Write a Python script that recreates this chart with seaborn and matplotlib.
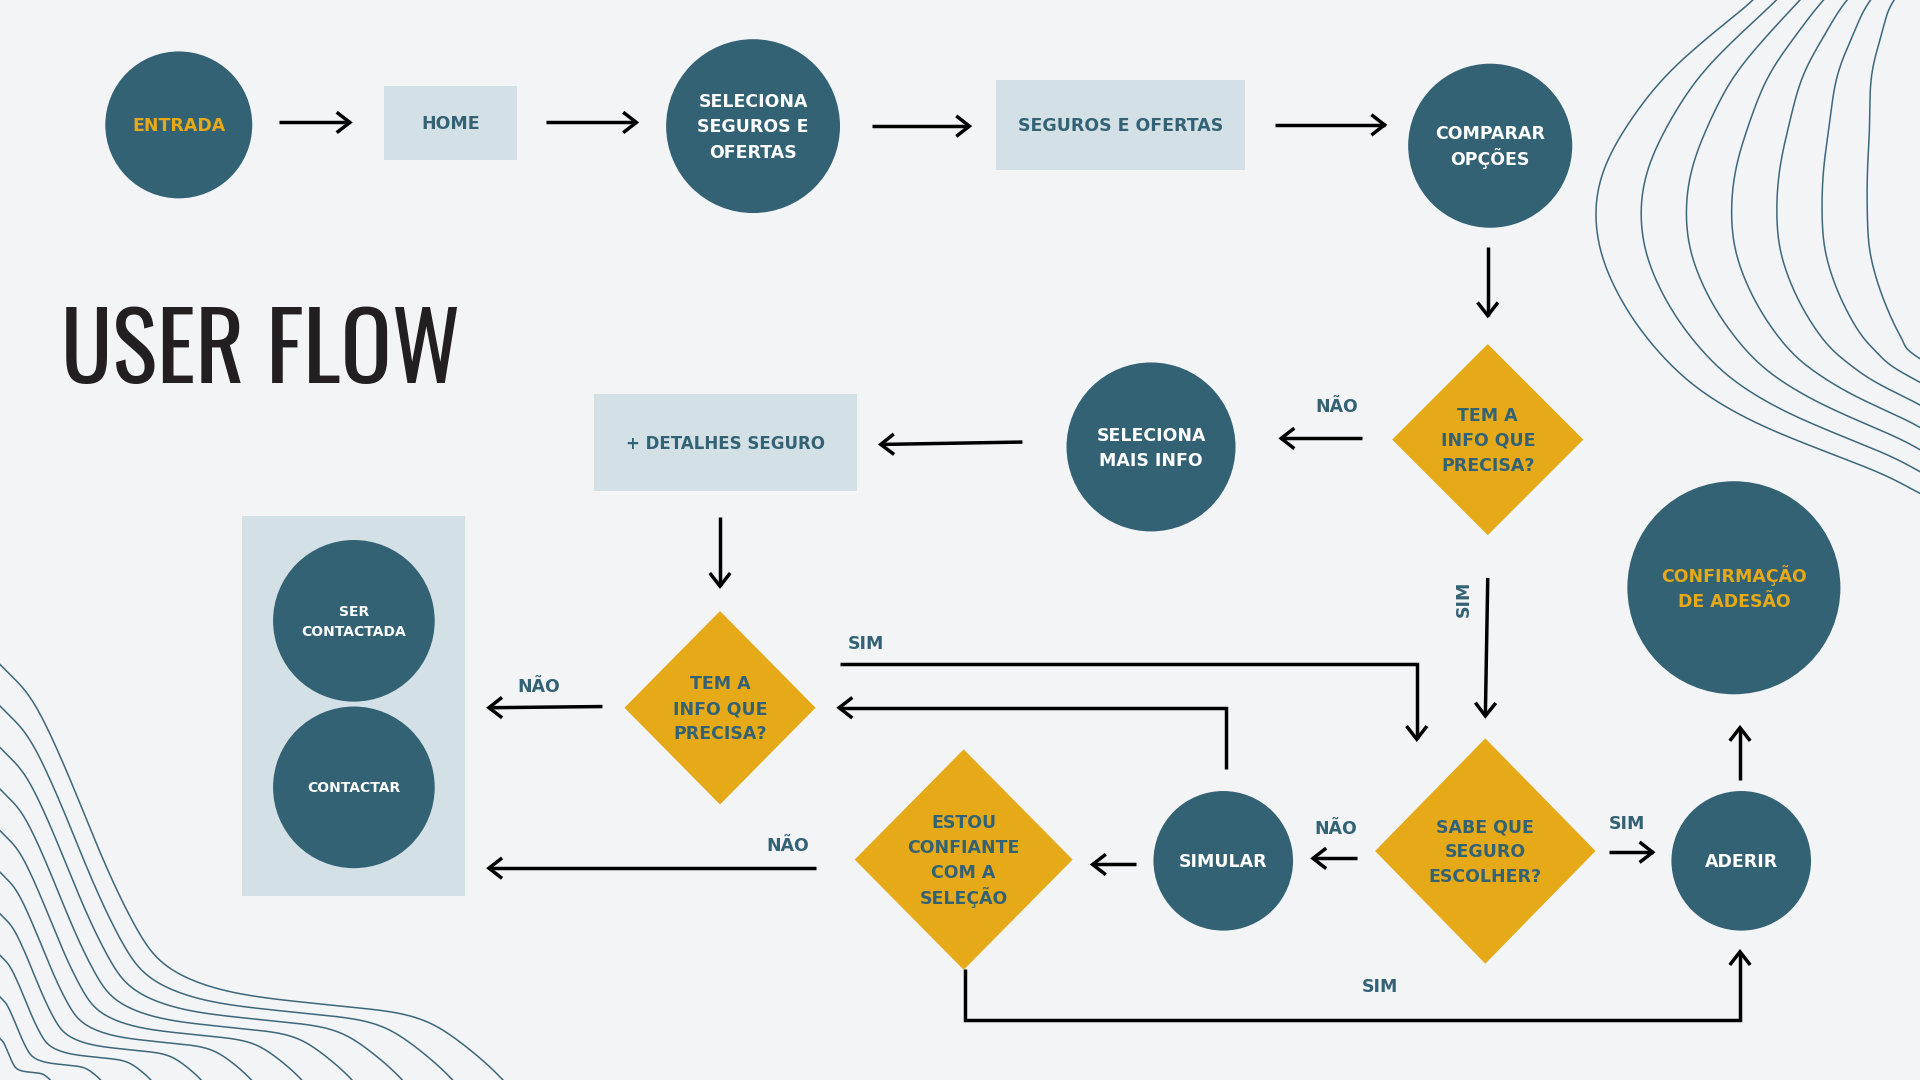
import numpy as np
import pandas as pd
import matplotlib
matplotlib.use("Agg")
import matplotlib.pyplot as plt
import seaborn as sns
from matplotlib.patches import Circle, Rectangle, Polygon, FancyArrowPatch, ArrowStyle
from matplotlib.path import Path
from matplotlib import font_manager

# ---------------- content ----------------
title = "USER FLOW"
circle_labels = ["ENTRADA", "SELECIONA\nSEGUROS E\nOFERTAS", "COMPARAR\nOPÇÕES",
                 "SELECIONA\nMAIS INFO", "SER\nCONTACTADA", "CONTACTAR",
                 "SIMULAR", "ADERIR", "CONFIRMAÇÃO\nDE ADESÃO"]
box_labels = ["HOME", "SEGUROS E OFERTAS", "+ DETALHES SEGURO"]
diamond_labels = ["TEM A\nINFO QUE\nPRECISA?", "TEM A\nINFO QUE\nPRECISA?",
                  "SABE QUE\nSEGURO\nESCOLHER?", "ESTOU\nCONFIANTE\nCOM A\nSELEÇÃO"]
decision_labels = ["NÃO", "NÃO", "SIM", "SIM", "NÃO", "NÃO", "SIM", "SIM"]

# ---------------- styles ----------------
TEAL = "#346275"
YELLOW = "#e6a918"
LIGHT = "#d3e0e5"
BG = "#f2f4f6"
WHITE = "#ffffff"
INK = "#231f20"

# ---------------- layout (canvas units 1568 x 882, y downward) ----------------
W, H = 1568, 882
circle_xy = [(146, 102), (615, 103), (1217, 119), (940, 365), (289, 507),
             (289, 643), (999, 703), (1422, 703), (1416, 480)]
circle_r = [60, 71, 67, 69, 66, 66, 57, 57, 87]
circle_tc = [YELLOW, WHITE, WHITE, WHITE, WHITE, WHITE, WHITE, WHITE, YELLOW]
circle_fs = [12.5, 12.5, 12.5, 12.5, 10, 10, 12.5, 12.5, 12.5]

box_xywh = [(314, 70, 108, 61), (813, 65, 204, 74), (485, 322, 215, 79)]
box_fs = [12.5, 12.5, 12]
panel_xywh = (198, 421, 182, 311)

diamond_xy = [(1215, 359), (588, 578), (1213, 695), (787, 702)]
diamond_hw = [(78, 78), (78, 79), (90, 92), (89, 90)]

label_xy = [(1092, 332), (440, 561), (707, 526), (1195, 489),
            (1091, 677), (643, 691), (1329, 673), (1127, 806)]
label_rot = [0, 0, 0, 90, 0, 0, 0, 0]

edges = [
    [(228, 100), (288, 100)],
    [(446, 100), (522, 100)],
    [(712, 103), (794, 103)],
    [(1041, 102), (1133, 102)],
    [(1215, 202), (1215, 260)],
    [(1112, 358), (1044, 358)],
    [(835, 361), (717, 363)],
    [(588, 422), (588, 481)],
    [(492, 577), (397, 578)],
    [(686, 542), (1157, 542), (1157, 606)],
    [(1001, 628), (1001, 578), (683, 578)],
    [(1215, 472), (1213, 587)],
    [(1108, 701), (1070, 701)],
    [(928, 706), (890, 706)],
    [(666, 709), (397, 709)],
    [(1314, 696), (1352, 696)],
    [(1421, 637), (1421, 592)],
    [(788, 791), (788, 833), (1421, 833), (1421, 775)],
]

# decorative contour lines
wave_tr_base = [(1460, -30), (1432, 0), (1399, 27), (1360, 62), (1329, 102), (1309, 140),
                (1303, 177), (1311, 218), (1337, 266), (1378, 311), (1427, 342),
                (1481, 365), (1535, 386), (1568, 403), (1600, 420)]
wave_tr_step = [(19, 0), (19, 0), (23, 0), (28, 0), (33, 0), (36, 0), (37, 0), (36, -2),
                (33, -5), (28, -8), (21, -11), (13, -13), (8, -14), (5, -15), (5, -15)]
n_waves_tr = 7
wave_bl_base = [(-40, 500), (0, 543), (27, 572), (55, 631), (82, 697), (109, 754),
                (136, 790), (190, 811), (272, 821), (340, 830), (381, 855), (411, 882), (430, 905)]
wave_bl_scale = [1.0, 0.9, 0.8, 0.7, 0.6, 0.5, 0.4, 0.3, 0.2, 0.1]
wave_bl_anchor = (0, 882)


def catmull_rom(pts, n=24):
    P = np.asarray(pts, float)
    out = []
    for i in range(len(P) - 1):
        p0 = P[max(i - 1, 0)]; p1 = P[i]; p2 = P[i + 1]; p3 = P[min(i + 2, len(P) - 1)]
        t = np.linspace(0, 1, n, endpoint=False)[:, None]
        out.append(0.5 * ((2 * p1) + (-p0 + p2) * t + (2 * p0 - 5 * p1 + 4 * p2 - p3) * t ** 2
                          + (-p0 + 3 * p1 - 3 * p2 + p3) * t ** 3))
    out.append(P[-1][None, :])
    c = np.vstack(out)
    k = 21
    ker = np.ones(k) / k
    pad = np.vstack([np.repeat(c[:1], k // 2, 0), c, np.repeat(c[-1:], k // 2, 0)])
    return np.column_stack([np.convolve(pad[:, 0], ker, "valid"),
                            np.convolve(pad[:, 1], ker, "valid")])


def frame(curves, tag):
    return [pd.DataFrame({"x": c[:, 0], "y": c[:, 1], "curve": f"{tag}{k}"})
            for k, c in enumerate(curves)]


b = np.asarray(wave_tr_base, float); s = np.asarray(wave_tr_step, float)
tr_curves = [catmull_rom(b + k * s) for k in range(n_waves_tr)]
a = np.asarray(wave_bl_base, float); anc = np.asarray(wave_bl_anchor, float)
bl_curves = [catmull_rom(anc + sc * (a - anc)) for sc in wave_bl_scale]

# ---------------- drawing ----------------
sns.set_theme(style="white")
plt.rcParams["font.family"] = ["DejaVu Sans"]

fig = plt.figure(figsize=(19.2, 10.8), dpi=100, facecolor=BG)
ax = fig.add_axes([0, 0, 1, 1])
ax.set_facecolor(BG)

waves = pd.concat(frame(tr_curves, "tr") + frame(bl_curves, "bl"), ignore_index=True)
sns.lineplot(data=waves, x="x", y="y", units="curve", estimator=None, sort=False,
             color="#3d677b", lw=1.1, ax=ax, zorder=1)


def draw_label(x, y, text, fs, color, spacing=1.64):
    lines = text.split("\n")
    n = len(lines)
    for i, line in enumerate(lines):
        yc = y + (i - (n - 1) / 2) * fs * spacing
        ax.text(x, yc + 0.413 * fs, line, ha="center", va="baseline", fontsize=fs,
                fontweight="bold", color=color, zorder=5)


ax.add_patch(Rectangle(panel_xywh[:2], panel_xywh[2], panel_xywh[3], fc=LIGHT, ec="none", zorder=2))

for (x, y, w, h), lab, fs in zip(box_xywh, box_labels, box_fs):
    ax.add_patch(Rectangle((x, y), w, h, fc=LIGHT, ec="none", zorder=2))
    draw_label(x + w / 2, y + h / 2, lab, fs, TEAL)

for (x, y), r, lab, tc, fs in zip(circle_xy, circle_r, circle_labels, circle_tc, circle_fs):
    ax.add_patch(Circle((x, y), r, fc=TEAL, ec="none", zorder=3))
    draw_label(x, y, lab, fs, tc)

for (x, y), (hx, hy), lab in zip(diamond_xy, diamond_hw, diamond_labels):
    ax.add_patch(Polygon([(x, y - hy), (x + hx, y), (x, y + hy), (x - hx, y)],
                         closed=True, fc=YELLOW, ec="none", zorder=3))
    draw_label(x, y, lab, 12.5, TEAL)

for (x, y), lab, rot in zip(label_xy, decision_labels, label_rot):
    ax.text(x, y, lab, ha="center", va="center", fontsize=12.5, fontweight="bold",
            color=TEAL, rotation=rot, zorder=5)

style = ArrowStyle("->", head_length=0.45, head_width=0.35)
for pts in edges:
    arr = FancyArrowPatch(path=Path(pts), arrowstyle=style, mutation_scale=21,
                          lw=2.5, color="black", joinstyle="miter", capstyle="butt", zorder=4)
    ax.add_patch(arr)

available = {f.name for f in font_manager.fontManager.ttflist}
title_family = next((f for f in ["Oswald", "Liberation Sans Narrow", "Roboto Condensed",
                                 "DejaVu Sans"] if f in available), "DejaVu Sans")
ax.text(50, 313, title, ha="left", va="baseline", fontsize=68, color=INK,
        family=[title_family, "DejaVu Sans"], fontstretch="condensed")

ax.set_xlim(0, W)
ax.set_ylim(H, 0)
ax.set_axis_off()
fig.savefig("out.png", dpi=100, facecolor=BG)
